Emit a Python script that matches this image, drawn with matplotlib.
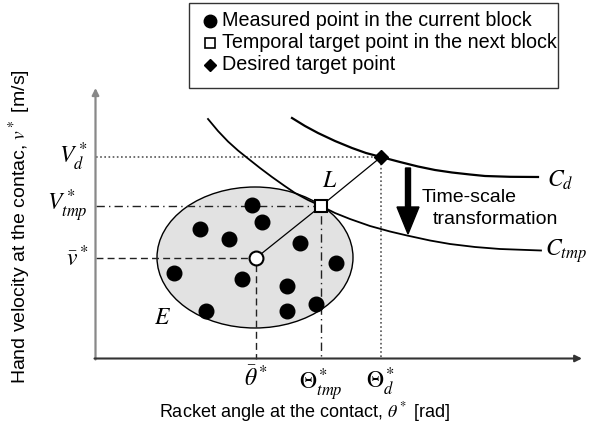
import matplotlib
matplotlib.use("Agg")
import matplotlib.pyplot as plt
from matplotlib.patches import Ellipse, Rectangle

plt.rcParams['font.family'] = ['Liberation Sans', 'DejaVu Sans']
plt.rcParams['mathtext.fontset'] = 'stix'

# measured points in the current block (diagram coords, y grows downward)
meas_x = [252, 262, 200, 229, 300, 336, 174, 242, 287, 206, 287, 316]
meas_y = [205, 222, 229, 239, 243, 263, 273, 279, 286, 311, 311, 304]

mean_pt = (256, 258)      # \bar{theta}*, \bar{v}*
tmp_pt = (321, 206)       # Theta_tmp*, V_tmp*
des_pt = (381, 157)       # Theta_d*, V_d*

# curves
ctmp_x = [208, 218, 228, 238, 248, 260, 272, 284, 295, 308, 321, 335, 350, 370, 390, 407, 430, 450, 475, 500, 541]
ctmp_y = [119, 131, 141.5, 150.5, 158.5, 168, 177, 185.5, 193, 200, 206, 213, 219, 226, 231.5, 235.5, 240.5, 244, 247, 249, 250.5]
cd_x = [292, 305, 318, 335, 352, 366, 381, 400, 418, 435, 452, 470, 485, 510, 538]
cd_y = [118, 126, 133, 141, 148, 153, 157, 162, 166.5, 170, 172.5, 174.5, 176, 176.8, 177]

legend_labels = ["Measured point in the current block",
                 "Temporal target point in the next block",
                 "Desired target point"]

fig = plt.figure(figsize=(5.95, 4.29), dpi=100)
ax = fig.add_axes([0, 0, 1, 1])
ax.set_xlim(0, 595)
ax.set_ylim(429, 0)
ax.axis('off')

x0, y0 = 95.5, 358.5

# axes with arrows
ax.annotate('', xy=(x0, 88), xytext=(x0, y0 + 1),
            arrowprops=dict(arrowstyle='-|>', color='#888888', lw=1.6,
                            mutation_scale=10, shrinkA=0, shrinkB=0))
ax.annotate('', xy=(582, y0), xytext=(x0 - 1, y0),
            arrowprops=dict(arrowstyle='-|>', color='#333333', lw=1.5,
                            mutation_scale=10, shrinkA=0, shrinkB=0))

# ellipse E
ax.add_patch(Ellipse((255, 257.5), 196, 141, fc='#e2e2e2', ec='black', lw=1, zorder=1))

# reference lines
ax.plot([x0, des_pt[0], des_pt[0]], [des_pt[1], des_pt[1], y0], color='#555555',
        lw=1.2, ls=(0, (1, 1.5)), zorder=2)
ax.plot([x0, tmp_pt[0], tmp_pt[0]], [tmp_pt[1], tmp_pt[1], y0], color='#222222',
        lw=1, ls=(0, (6, 3, 1, 3)), zorder=2)
ax.plot([x0, mean_pt[0], mean_pt[0]], [mean_pt[1], mean_pt[1], y0], color='#222222',
        lw=1, ls=(0, (5, 3)), zorder=2)

# curves
ax.plot(ctmp_x, ctmp_y, color='black', lw=1.3, zorder=3)
ax.plot(cd_x, cd_y, color='black', lw=1.6, zorder=3)

# connecting lines
ax.plot([mean_pt[0], tmp_pt[0], des_pt[0]], [mean_pt[1], tmp_pt[1], des_pt[1]],
        color='black', lw=0.9, zorder=3)

# points
ax.plot(meas_x, meas_y, 'o', color='black', ms=10.5, zorder=4)
ax.plot(*mean_pt, 'o', mfc='white', mec='black', mew=1.5, ms=10, zorder=5)
ax.plot(*tmp_pt, 's', mfc='white', mec='black', mew=1.5, ms=8.5, zorder=5)
ax.plot(*des_pt, 'D', color='black', ms=7.5, zorder=5)

# arrow: time-scale transformation
ax.arrow(408, 168, 0, 66, width=5, head_width=22, head_length=27,
         length_includes_head=True, color='black', zorder=4)
ax.text(422, 198, "Time-scale", fontsize=14, va='center', ha='left')
ax.text(433, 219, "transformation", fontsize=14, va='center', ha='left')

# math labels
ms = 17
ax.text(88, des_pt[1], r"$V_d^*$", fontsize=ms, ha='right', va='center')
ax.text(88, tmp_pt[1], r"$V_{tmp}^*$", fontsize=ms, ha='right', va='center')
ax.text(88, mean_pt[1], r"$\bar{v}^*$", fontsize=ms, ha='right', va='center')
ax.text(mean_pt[0], 366, r"$\bar{\theta}^*$", fontsize=ms, ha='center', va='top')
ax.text(tmp_pt[0], 366, r"$\Theta_{tmp}^*$", fontsize=ms, ha='center', va='top')
ax.text(des_pt[0], 366, r"$\Theta_d^*$", fontsize=ms, ha='center', va='top')
ax.text(330, 181, r"$L$", fontsize=ms, ha='center', va='center')
ax.text(163, 318, r"$E$", fontsize=ms, ha='center', va='center')
ax.text(547, 180, r"$C_d$", fontsize=ms, ha='left', va='center')
ax.text(545, 251, r"$C_{tmp}$", fontsize=ms, ha='left', va='center')

# axis titles
ax.text(305, 412, r"Racket angle at the contact, $\theta^*$ [rad]", fontsize=13,
        ha='center', va='center')
ax.text(20, 227, r"Hand velocity at the contac, $v^*$ [m/s]", fontsize=14,
        ha='center', va='center', rotation=90)

# legend
ax.add_patch(Rectangle((189, 3), 369, 85, fc='white', ec='#333333', lw=1, zorder=6))
leg_y = [21, 43, 65]
ax.plot(210, leg_y[0], 'o', color='black', ms=9, zorder=7)
ax.plot(210, leg_y[1], 's', mfc='white', mec='black', mew=1.2, ms=7.5, zorder=7)
ax.plot(210, leg_y[2], 'D', color='black', ms=6.5, zorder=7)
for yy, lab in zip(leg_y, legend_labels):
    ax.text(222, yy, lab, fontsize=14.2, ha='left', va='center', zorder=7)

fig.savefig("out.png", dpi=100)
